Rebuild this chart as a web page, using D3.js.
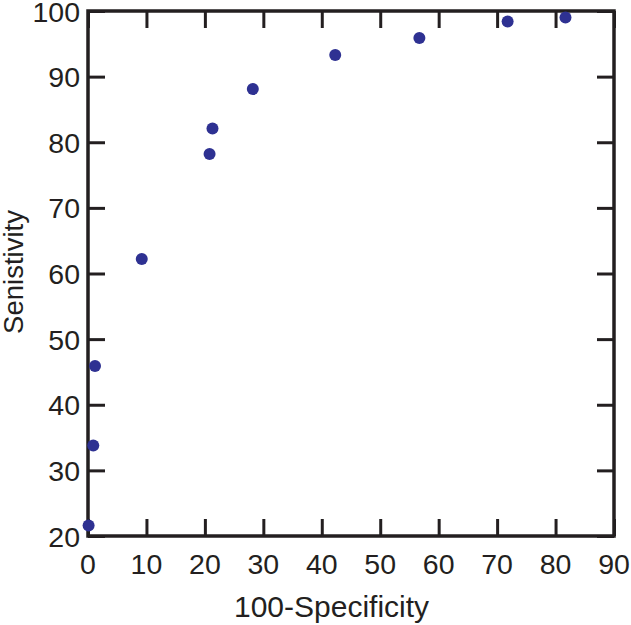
<!DOCTYPE html>
<html>
<head>
<meta charset="utf-8">
<script src="https://cdn.jsdelivr.net/npm/d3@7"></script>
<style>
  body { margin: 0; background: #fff; }
  text { font-family: "Liberation Sans", Arial, sans-serif; fill: #231f20; }
</style>
</head>
<body>
<svg id="chart" width="631" height="625"></svg>
<script>
const specificity = [0.1, 0.9, 1.2, 9.2, 20.8, 21.3, 28.2, 42.3, 56.7, 71.8, 81.7];
const sensitivity = [21.6, 33.8, 45.9, 62.2, 78.2, 82.1, 88.1, 93.3, 95.9, 98.4, 99.0];
const xTicks = [0, 10, 20, 30, 40, 50, 60, 70, 80, 90];
const yTicks = [20, 30, 40, 50, 60, 70, 80, 90, 100];

const svg = d3.select('#chart');
const plotLeft = 88, plotRight = 614, plotTop = 11, plotBottom = 536;

const x = d3.scaleLinear().domain([0, 90]).range([plotLeft, plotRight]);
const y = d3.scaleLinear().domain([20, 100]).range([plotBottom, plotTop]);

const tickLen = 17;
const ink = '#231f20';

// inward ticks on all four sides
svg.append('g')
  .attr('transform', `translate(0, ${plotBottom})`)
  .call(d3.axisTop(x).tickValues(xTicks).tickSize(tickLen).tickFormat(''))
  .call((g) => g.select('.domain').remove());
svg.append('g')
  .attr('transform', `translate(0, ${plotTop})`)
  .call(d3.axisBottom(x).tickValues(xTicks).tickSize(tickLen).tickFormat(''))
  .call((g) => g.select('.domain').remove());
svg.append('g')
  .attr('transform', `translate(${plotLeft}, 0)`)
  .call(d3.axisRight(y).tickValues(yTicks).tickSize(tickLen).tickFormat(''))
  .call((g) => g.select('.domain').remove());
svg.append('g')
  .attr('transform', `translate(${plotRight}, 0)`)
  .call(d3.axisLeft(y).tickValues(yTicks).tickSize(tickLen).tickFormat(''))
  .call((g) => g.select('.domain').remove());

svg.selectAll('.tick line')
  .attr('stroke', ink)
  .attr('stroke-width', 3);

svg.append('rect')
  .attr('x', plotLeft)
  .attr('y', plotTop)
  .attr('width', plotRight - plotLeft)
  .attr('height', plotBottom - plotTop)
  .attr('fill', 'none')
  .attr('stroke', ink)
  .attr('stroke-width', 3.5);

// tick labels
svg.append('g')
  .selectAll('text')
  .data(xTicks)
  .enter()
  .append('text')
  .text((d) => d)
  .attr('x', (d) => x(d))
  .attr('y', 574)
  .attr('text-anchor', 'middle')
  .attr('font-size', 28.5);

svg.append('g')
  .selectAll('text')
  .data(yTicks)
  .enter()
  .append('text')
  .text((d) => d)
  .attr('x', 80)
  .attr('y', (d) => y(d) + 10.5)
  .attr('text-anchor', 'end')
  .attr('font-size', 28.5);

// axis titles
svg.append('text')
  .text('100-Specificity')
  .attr('x', 331.5)
  .attr('y', 617)
  .attr('text-anchor', 'middle')
  .attr('font-size', 30);

svg.append('text')
  .text('Senistivity')
  .attr('transform', 'translate(23, 272) rotate(-90)')
  .attr('text-anchor', 'middle')
  .attr('font-size', 27.5);

// points
svg.append('g')
  .selectAll('circle')
  .data(specificity)
  .enter()
  .append('circle')
  .attr('cx', (d) => x(d))
  .attr('cy', (d, i) => y(sensitivity[i]))
  .attr('r', 6)
  .attr('fill', '#2e3192');
</script>
</body>
</html>
